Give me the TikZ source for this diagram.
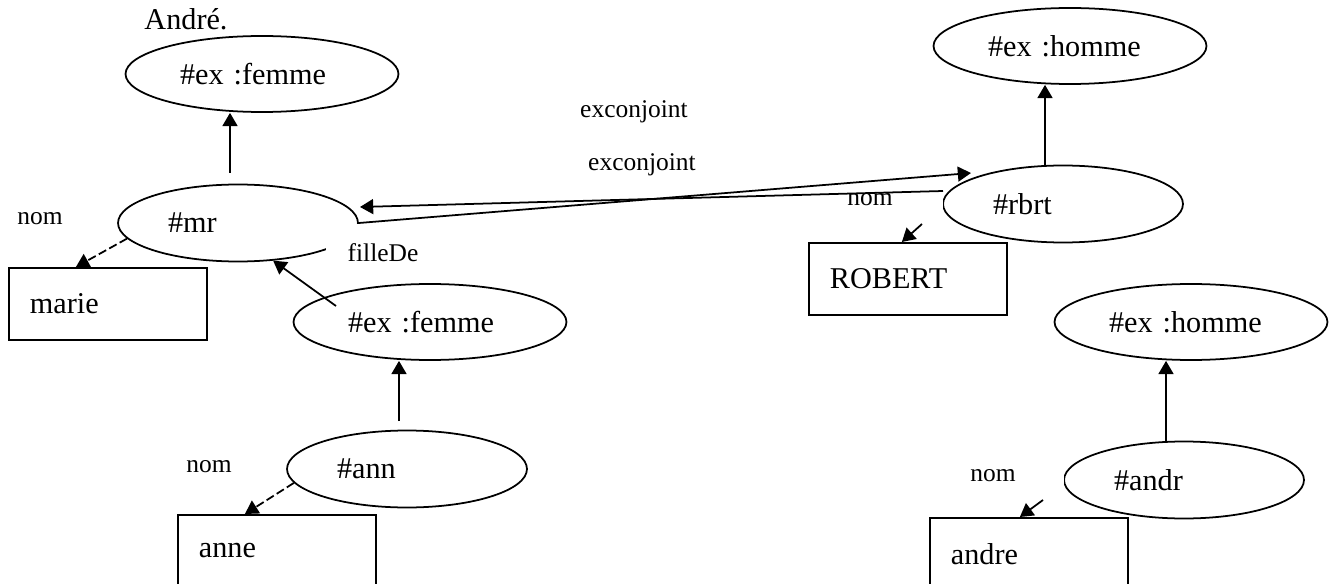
\documentclass[tikz,border=0pt]{standalone}
\usepackage{fontspec}
\setmainfont{Liberation Serif}
\usetikzlibrary{shapes.geometric,arrows.meta,calc}

\newcommand{\nodefont}{\fontsize{17.2}{20}\selectfont}
\newcommand{\labfont}{\fontsize{14.5}{17}\selectfont}

\tikzset{
  cls/.style={ellipse, draw, line width=1pt, minimum width=5.46cm, minimum height=1.52cm, text width=3.28cm, align=left, font=\nodefont},
  res/.style={ellipse, draw, line width=1pt, minimum width=4.8cm, minimum height=1.54cm, text width=2.8cm, align=left, font=\nodefont},
  lit/.style={rectangle, draw, line width=1pt, anchor=north west, minimum width=3.96cm, minimum height=1.44cm, inner xsep=0.42cm, text width=3.12cm, align=left, font=\nodefont},
  lbl/.style={inner sep=0pt, font=\labfont},
  arr/.style={-{Triangle[length=7.5pt,width=8.5pt]}, line width=1pt},
  darr/.style={arr, dash pattern=on 4.8pt off 2pt}
}

\begin{document}
\begin{tikzpicture}[x=0.02cm, y=-0.02cm]
        \useasboundingbox (0,0) rectangle (1335,584);

        % Title
        \node[inner sep=0pt, font=\nodefont] (title) at (186,19) {André.};

        % Classes
        \node[cls] (femA) at (262,74) {\#ex :femme};
        \node[cls] (femB) at (430,322) {\#ex :femme};
        \node[cls] (homA) at (1070,46) {\#ex :homme};
        \node[cls] (homB) at (1191,322) {\#ex :homme};

        % Resources
        \node[res] (mr) at (238,223) {\#mr};
        \node[res] (ann) at (407,469) {\#ann};
        \node[res] (rbrt) at (1063,204) {\#rbrt};
        \node[res] (andr) at (1184,480) {\#andr};

        % Literals
        \node[lit] (marie) at (8,267) {marie};
        \node[lit] (anne) at (177,514) {anne};
        \node[lit] (robert) at (808,242) {ROBERT};
        \node[lit] (andre) at (929,517) {andre};

        % White label boxes hiding parts of the ellipses
        \fill[white] (326,224) rectangle (440,268);
        \fill[white] (900,196) rectangle (943.4,212);
        \fill[white] (1030,471) rectangle (1064.4,485);

        % Free ends
        \coordinate (mrUp) at (230,173);
        \coordinate (femBTail) at (336,306);
        \coordinate (annUp) at (399,421);
        \coordinate (rbrtUp) at (1045,167);
        \coordinate (andrUp) at (1166,442);
        \coordinate (rbrtNom) at (922,224);
        \coordinate (andrNom) at (1043,500);
        \coordinate (conjHead) at (971,173);
        \coordinate (conjTail) at (943,191);
        \coordinate (conjBack) at (360,207);

        % rdf:type
        \draw[arr] (mrUp) -- (mrUp |- femA.south);
        \draw[arr] (annUp) -- (annUp |- femB.south);
        \draw[arr] (rbrtUp) -- (rbrtUp |- homA.south);
        \draw[arr] (andrUp) -- (andrUp |- homB.south);

        % filleDe
        \draw[arr] (femBTail) -- (mr.313);

        % exconjoint (both ways)
        \draw[arr] (mr.east) -- (conjHead);
        \draw[arr] (conjTail) -- (conjBack);

        % nom
        \draw[darr] (mr.188) -- ($(marie.north west)!0.34!(marie.north east)$);
        \draw[darr] (ann.187) -- ($(anne.north west)!0.34!(anne.north east)$);
        \draw[arr] (rbrtNom) -- ($(robert.north west)!0.47!(robert.north east)$);
        \draw[arr] (andrNom) -- ($(andre.north west)!0.455!(andre.north east)$);

        % Edge labels
        \node[lbl] (nomMr) at (40,219) {nom};
        \node[lbl] (nomAnn) at (209,467) {nom};
        \node[lbl] (nomRbrt) at (870,200) {nom};
        \node[lbl] (nomAndr) at (993,476) {nom};
        \node[lbl] (fille) at (383,253) {filleDe};
        \node[lbl] (conjA) at (634,112) {exconjoint};
        \node[lbl] (conjB) at (642,165) {exconjoint};
\end{tikzpicture}
\end{document}
